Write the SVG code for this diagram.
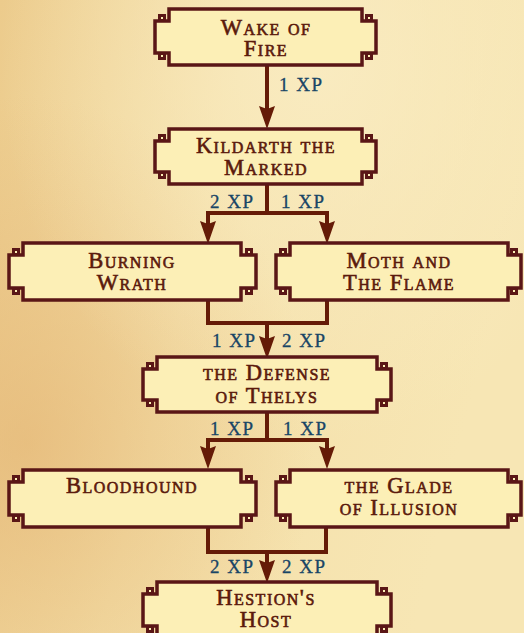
<svg xmlns="http://www.w3.org/2000/svg" width="524" height="633" viewBox="0 0 524 633">
  <defs>
    <linearGradient id="bg" x1="0" y1="0" x2="1" y2="0.3">
      <stop offset="0" stop-color="#eccb8c"/>
      <stop offset="0.45" stop-color="#f4dfa8"/>
      <stop offset="1" stop-color="#f7e6b4"/>
    </linearGradient>
    <radialGradient id="warm" cx="0.05" cy="0.7" r="0.55">
      <stop offset="0" stop-color="#e2b06e" stop-opacity="0.6"/>
      <stop offset="1" stop-color="#e2b06e" stop-opacity="0"/>
    </radialGradient>
    <radialGradient id="light" cx="0.6" cy="0.1" r="0.6">
      <stop offset="0" stop-color="#faedc4" stop-opacity="0.85"/>
      <stop offset="1" stop-color="#faedc4" stop-opacity="0"/>
    </radialGradient>
    <marker id="ah" viewBox="0 0 23 16" refX="10" refY="8" markerWidth="23" markerHeight="16" markerUnits="userSpaceOnUse" orient="auto">
      <path d="M0,0 L23,8 L0,16 L3,8 Z" fill="#651b07"/>
    </marker>
    <style>
      .frame { fill: #fcefb6; stroke: #5a1616; stroke-width: 3.5; stroke-linejoin: miter; }
      .sq { fill: #fcefb6; stroke: #5a1616; stroke-width: 3; }
      .t { font-family: "Liberation Serif", "Times New Roman", serif; font-size: 22.5px; font-variant: small-caps; fill: #5b1a0c; stroke: #5b1a0c; stroke-width: 0.6px; text-anchor: middle; letter-spacing: 1.5px; }
      .c { fill: none; stroke: #651b07; stroke-width: 4; stroke-linejoin: miter; }
      .xp { font-family: "Liberation Serif", "Times New Roman", serif; font-size: 19px; fill: #184566; stroke: #184566; stroke-width: 0.3px; letter-spacing: 1.5px; }
    </style>
  </defs>
  <rect width="524" height="633" fill="url(#bg)"/>
  <rect width="524" height="633" fill="url(#warm)"/>
  <rect width="524" height="633" fill="url(#light)"/>

  <g id="connectors">
    <path class="c" d="M267,65 V116" marker-end="url(#ah)"/>
    <path class="c" d="M267,184 V213 H208 V231" marker-end="url(#ah)"/>
    <path class="c" d="M267,213 H327 V231" marker-end="url(#ah)"/>
    <path class="c" d="M208,300 V323 H327 V300"/>
    <path class="c" d="M267,323 V346" marker-end="url(#ah)"/>
    <path class="c" d="M267,412 V440 H208 V456" marker-end="url(#ah)"/>
    <path class="c" d="M267,440 H327 V456" marker-end="url(#ah)"/>
    <path class="c" d="M208,527 V552 H326 V527"/>
    <path class="c" d="M267,552 V570" marker-end="url(#ah)"/>
    <text class="xp" x="279" y="91">1 XP</text>
    <text class="xp" x="210" y="208">2 XP</text>
    <text class="xp" x="281" y="208">1 XP</text>
    <text class="xp" x="212" y="347">1 XP</text>
    <text class="xp" x="282" y="347">2 XP</text>
    <text class="xp" x="210" y="435">1 XP</text>
    <text class="xp" x="283" y="435">1 XP</text>
    <text class="xp" x="210" y="573">2 XP</text>
    <text class="xp" x="282" y="573">2 XP</text>
  </g>

  <g id="wake-of-fire">
    <path class="frame" d="M169,9 H362 V21 H376 V53 H362 V65 H169 V53 H155 V21 H169 Z"/>
    <rect class="sq" x="159.5" y="15.5" width="5" height="5"/>
    <rect class="sq" x="159.5" y="53.5" width="5" height="5"/>
    <rect class="sq" x="366.5" y="15.5" width="5" height="5"/>
    <rect class="sq" x="366.5" y="53.5" width="5" height="5"/>
    <text class="t" x="266" y="35">Wake of</text>
    <text class="t" x="266" y="56">Fire</text>
  </g>

  <g id="kildarth">
    <path class="frame" d="M169,129 H362 V141 H376 V172 H362 V184 H169 V172 H155 V141 H169 Z"/>
    <rect class="sq" x="159.5" y="135.5" width="5" height="5"/>
    <rect class="sq" x="159.5" y="172.5" width="5" height="5"/>
    <rect class="sq" x="366.5" y="135.5" width="5" height="5"/>
    <rect class="sq" x="366.5" y="172.5" width="5" height="5"/>
    <text class="t" x="266" y="153">Kildarth the</text>
    <text class="t" x="266" y="175">Marked</text>
  </g>

  <g id="burning-wrath">
    <path class="frame" d="M23,243 H241 V255 H256 V288 H241 V300 H23 V288 H9 V255 H23 Z"/>
    <rect class="sq" x="13.5" y="249.5" width="5" height="5"/>
    <rect class="sq" x="13.5" y="288.5" width="5" height="5"/>
    <rect class="sq" x="246.5" y="249.5" width="5" height="5"/>
    <rect class="sq" x="246.5" y="288.5" width="5" height="5"/>
    <text class="t" x="132" y="268">Burning</text>
    <text class="t" x="132" y="290">Wrath</text>
  </g>

  <g id="moth-and-the-flame">
    <path class="frame" d="M290,243 H508 V255 H521 V288 H508 V300 H290 V288 H276 V255 H290 Z"/>
    <rect class="sq" x="280.5" y="249.5" width="5" height="5"/>
    <rect class="sq" x="280.5" y="288.5" width="5" height="5"/>
    <rect class="sq" x="511.5" y="249.5" width="5" height="5"/>
    <rect class="sq" x="511.5" y="288.5" width="5" height="5"/>
    <text class="t" x="399" y="268">Moth and</text>
    <text class="t" x="399" y="290">The Flame</text>
  </g>

  <g id="defense-of-thelys">
    <path class="frame" d="M157,357 H377 V369 H391 V400 H377 V412 H157 V400 H143 V369 H157 Z"/>
    <rect class="sq" x="147.5" y="363.5" width="5" height="5"/>
    <rect class="sq" x="147.5" y="400.5" width="5" height="5"/>
    <rect class="sq" x="381.5" y="363.5" width="5" height="5"/>
    <rect class="sq" x="381.5" y="400.5" width="5" height="5"/>
    <text class="t" x="267" y="380">the Defense</text>
    <text class="t" x="267" y="403">of Thelys</text>
  </g>

  <g id="bloodhound">
    <path class="frame" d="M23,470 H241 V482 H256 V515 H241 V527 H23 V515 H9 V482 H23 Z"/>
    <rect class="sq" x="13.5" y="476.5" width="5" height="5"/>
    <rect class="sq" x="13.5" y="515.5" width="5" height="5"/>
    <rect class="sq" x="246.5" y="476.5" width="5" height="5"/>
    <rect class="sq" x="246.5" y="515.5" width="5" height="5"/>
    <text class="t" x="132" y="493">Bloodhound</text>
  </g>

  <g id="glade-of-illusion">
    <path class="frame" d="M290,470 H508 V482 H521 V515 H508 V527 H290 V515 H276 V482 H290 Z"/>
    <rect class="sq" x="280.5" y="476.5" width="5" height="5"/>
    <rect class="sq" x="280.5" y="515.5" width="5" height="5"/>
    <rect class="sq" x="511.5" y="476.5" width="5" height="5"/>
    <rect class="sq" x="511.5" y="515.5" width="5" height="5"/>
    <text class="t" x="399" y="493">the Glade</text>
    <text class="t" x="399" y="515">of Illusion</text>
  </g>

  <g id="hestions-host">
    <path class="frame" d="M157,582 H377 V594 H391 V626 H377 V638 H157 V626 H143 V594 H157 Z"/>
    <rect class="sq" x="147.5" y="588.5" width="5" height="5"/>
    <rect class="sq" x="147.5" y="626.5" width="5" height="5"/>
    <rect class="sq" x="381.5" y="588.5" width="5" height="5"/>
    <rect class="sq" x="381.5" y="626.5" width="5" height="5"/>
    <text class="t" x="266" y="605">Hestion's</text>
    <text class="t" x="266" y="627">Host</text>
  </g>
</svg>
